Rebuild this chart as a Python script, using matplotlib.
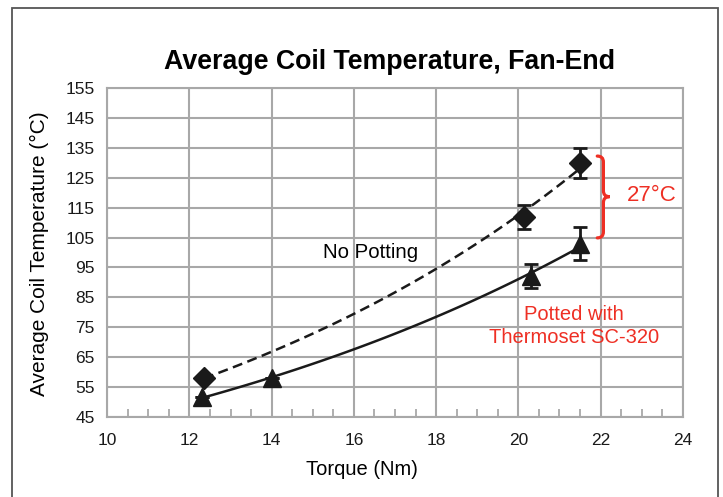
import numpy as np
import matplotlib
matplotlib.use("Agg")
import matplotlib.pyplot as plt
from matplotlib.path import Path
from matplotlib.patches import PathPatch, Rectangle
from matplotlib.ticker import MultipleLocator

plt.rcParams['font.family'] = ['Liberation Sans', 'DejaVu Sans']

# No potting (diamonds)
torque_np = [12.35, 20.15, 21.5]
temp_np = [58.0, 112.0, 130.0]
err_np = [0.0, 4.0, 5.0]

# Potted with Thermoset SC-320 (triangles)
torque_pot = [12.3, 14.0, 20.3, 21.5]
temp_pot = [51.5, 58.0, 92.0, 103.0]
err_pot = [0.0, 0.0, 4.0, 5.5]

RED = '#ee2f24'
GRID = '#a8a8a8'

fig = plt.figure(figsize=(7.23, 4.97), dpi=100)
ax = fig.add_axes([0.1484, 0.1616, 0.7959, 0.6607])

# frame around the whole figure
fig.patches.append(Rectangle((12 / 723, -0.05), 706 / 723, 1.05 - 8 / 497,
                             transform=fig.transFigure, fill=False,
                             edgecolor='#555555', lw=1.3))


def exp_trend(x, y):
    # exponential trendline like the spreadsheet one
    b, a = np.polyfit(x, np.log(y), 1)
    xs = np.linspace(min(x), max(x), 100)
    return xs, np.exp(a + b * xs)


xs, ys = exp_trend(torque_np, temp_np)
ax.plot(xs, ys, color='#1a1a1a', lw=1.8, linestyle=(0, (4, 2.2)), zorder=3)
xs, ys = exp_trend(torque_pot, temp_pot)
ax.plot(xs, ys, color='#1a1a1a', lw=1.8, zorder=3)

ax.errorbar(torque_np, temp_np, yerr=err_np, fmt='D', ms=11, color='#1a1a1a',
            ecolor='#1a1a1a', elinewidth=2, capsize=5, capthick=2, zorder=4)
ax.errorbar(torque_pot, temp_pot, yerr=err_pot, fmt='^', ms=13, color='#1a1a1a',
            ecolor='#1a1a1a', elinewidth=2, capsize=5, capthick=2, zorder=4)

ax.set_xlim(10, 24)
ax.set_ylim(45, 155)
ax.set_xticks(np.arange(10, 25, 2))
ax.set_yticks(np.arange(45, 156, 10))
ax.xaxis.set_minor_locator(MultipleLocator(0.5))
ax.grid(True, which='major', color=GRID, lw=1.5)
ax.set_axisbelow(True)
for s in ax.spines.values():
    s.set_color(GRID)
    s.set_linewidth(1.5)
ax.tick_params(which='major', length=0, labelsize=12.5, labelcolor='#1a1a1a')
ax.tick_params(axis='x', which='major', pad=12)
ax.tick_params(axis='y', which='major', pad=9)
ax.tick_params(axis='x', which='minor', direction='in', length=6, width=1.3, color=GRID)
ax.tick_params(axis='y', which='minor', length=0)

ax.set_xlabel('Torque (Nm)', fontsize=14.5, va='center')
ax.xaxis.set_label_coords(0.443, -0.162)
ax.set_ylabel('Average Coil Temperature (°C)', fontsize=15, va='center')
ax.yaxis.set_label_coords(-0.117, 0.495)
fig.text(0.539, 0.876, 'Average Coil Temperature, Fan-End', ha='center', va='center',
         fontsize=19.3, fontweight='bold')

ax.text(16.4, 100, 'No Potting', ha='center', va='center', fontsize=14.7)
ax.text(21.35, 75.5, 'Potted with\nThermoset SC-320', ha='center', va='center',
        fontsize=14.5, color=RED, linespacing=1.25)
ax.text(23.25, 119, '27°C', ha='center', va='center', fontsize=16, color=RED)

# curly brace between the two curves
xl, xv, xt = 21.92, 22.07, 22.22
yt, ym, yb, r = 132.3, 118.7, 104.9, 2.0
verts = [(xl, yt), (xv, yt), (xv, yt - r),
         (xv, ym + r), (xv, ym), (xt, ym),
         (xv, ym), (xv, ym - r),
         (xv, yb + r), (xv, yb), (xl, yb)]
codes = [Path.MOVETO, Path.CURVE3, Path.CURVE3,
         Path.LINETO, Path.CURVE3, Path.CURVE3,
         Path.CURVE3, Path.CURVE3,
         Path.LINETO, Path.CURVE3, Path.CURVE3]
ax.add_patch(PathPatch(Path(verts, codes), fill=False, edgecolor=RED, lw=2.3,
                       capstyle='round', clip_on=False, zorder=5))

fig.savefig('out.png', dpi=100)
